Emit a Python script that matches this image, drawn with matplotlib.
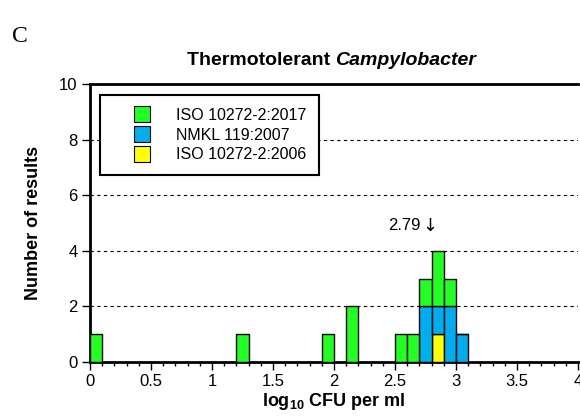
import matplotlib
matplotlib.use('Agg')
import matplotlib.pyplot as plt
from matplotlib.lines import Line2D
from matplotlib.ticker import MultipleLocator

# bin left edges (log10 CFU per ml), bin width 0.1
bins = [0.0, 1.2, 1.9, 2.1, 2.5, 2.6, 2.7, 2.8, 2.9, 3.0]
iso2006 = [0, 0, 0, 0, 0, 0, 0, 1, 0, 0]
nmkl = [0, 0, 0, 0, 0, 0, 2, 1, 2, 1]
iso2017 = [1, 1, 1, 2, 1, 1, 1, 2, 1, 0]
labels = ['ISO 10272-2:2017', 'NMKL 119:2007', 'ISO 10272-2:2006']
colors = ['#22ff22', '#00aeef', '#ffff00']
median = 2.79

plt.rcParams['font.family'] = ['Liberation Sans', 'DejaVu Sans']
plt.rcParams['mathtext.fontset'] = 'custom'
plt.rcParams['mathtext.rm'] = 'Liberation Sans:bold'
plt.rcParams['mathtext.bf'] = 'Liberation Sans:bold'

fig = plt.figure(figsize=(5.8, 4.19), dpi=100)
ax = fig.add_axes([90 / 580, 1 - 362 / 419, 488 / 580, 278 / 419])

bottom2 = [a + b for a, b in zip(iso2006, nmkl)]
ax.bar(bins, iso2006, width=0.1, align='edge', color=colors[2], edgecolor='black', lw=1, zorder=3)
ax.bar(bins, nmkl, width=0.1, align='edge', bottom=iso2006, color=colors[1], edgecolor='black', lw=1, zorder=3)
ax.bar(bins, iso2017, width=0.1, align='edge', bottom=bottom2, color=colors[0], edgecolor='black', lw=1, zorder=3)

ax.set_xlim(0, 4)
ax.set_ylim(0, 10)
ax.xaxis.set_major_locator(MultipleLocator(0.5))
ax.xaxis.set_minor_locator(MultipleLocator(0.1))
ax.yaxis.set_major_locator(MultipleLocator(2))
ax.xaxis.set_major_formatter(plt.FuncFormatter(lambda v, p: '%g' % v))
for y in [2, 4, 6, 8]:
    ax.axhline(y, color='black', lw=0.8, ls=(0, (3, 3)), zorder=1)

ax.spines['left'].set_linewidth(2)
ax.spines['bottom'].set_linewidth(2)
ax.spines['top'].set_linewidth(2)
ax.spines['right'].set_visible(False)
ax.tick_params(axis='both', which='major', direction='out', length=6, width=1, labelsize=12, pad=3)
ax.tick_params(axis='x', which='minor', direction='out', length=3, width=1)

ax.set_ylabel('Number of results', fontsize=13, fontweight='bold', labelpad=12)
ax.set_xlabel(r'log$_{\mathbf{10}}$ CFU per ml', fontsize=13, fontweight='bold', labelpad=1)

t1 = ax.text(2.01, 10.53, 'Thermotolerant ', ha='right', va='bottom', fontsize=14, fontweight='bold')
ax.annotate('Campylobacter', xy=(1, 0), xycoords=t1, ha='left', va='bottom',
            fontsize=14, fontweight='bold', fontstyle='italic')

# median value with a down arrow
ax.annotate('%.2f' % median, xy=(median, 4.9), xytext=(-7, 0), textcoords='offset points',
            ha='right', va='center', fontsize=12)
ax.annotate('\u2193', xy=(median, 4.9), xytext=(0, 0), textcoords='offset points',
            ha='center', va='center', fontsize=13, family=['DejaVu Sans'])

handles = [Line2D([], [], ls='none', marker='s', markersize=11, markerfacecolor=c,
                  markeredgecolor='black', markeredgewidth=0.8) for c in colors]
leg = ax.legend(handles, labels, loc='upper left', bbox_to_anchor=(10 / 488, (362 - 95) / 278),
                fontsize=11.5, frameon=True, fancybox=False, handlelength=3.6, handletextpad=0.35,
                labelspacing=0.3, borderpad=0.8, borderaxespad=0)
leg.get_frame().set_edgecolor('black')
leg.get_frame().set_linewidth(1.5)
leg.get_frame().set_alpha(1)
leg.set_zorder(5)

fig.text(12 / 580, 1 - 36 / 419, 'C', family=['Liberation Serif'], fontsize=17, va='center', ha='left')

fig.savefig('out.png', dpi=100)
